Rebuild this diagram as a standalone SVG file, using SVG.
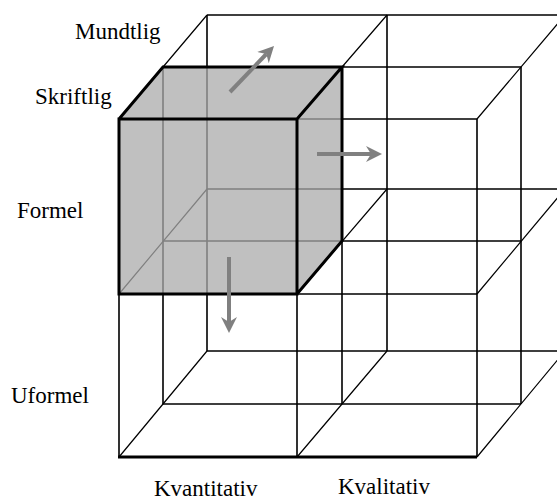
<svg xmlns="http://www.w3.org/2000/svg" width="557" height="501" viewBox="0 0 557 501">
<style>
.thin{stroke:#000;stroke-width:1.6;fill:none}
.diag{stroke:#000;stroke-width:1.2;fill:none}
.thick{stroke:#000;stroke-width:3;fill:none;stroke-linejoin:miter}
.arrow{stroke:#808080;stroke-width:4;fill:none}
.lbl{font-family:"Liberation Serif","Times New Roman",serif;font-size:23px;fill:#000}
</style>
<defs>
<marker id="ah" markerUnits="userSpaceOnUse" viewBox="0 -10 20 20" markerWidth="20" markerHeight="20" refX="5" refY="0" orient="auto">
<polygon points="0,-8 16,0 0,8 5,0" fill="#808080"/>
</marker>
</defs>
<rect width="557" height="501" fill="#fff"/>
<g id="lattice">
<path class="thin" d="M119 119H477M119 294H477M163 67H521M163 241H521M163 404H521M207 15H565M207 189H565M207 351H565"/>
<path class="thin" d="M119 119V457M297 119V457M477 119V457M163 67V404M342 67V404M521 67V404M207 15V351M387 15V351M565 15V351"/>
<path class="diag" d="M119 119L207 15M297 119L387 15M477 119L565 15M119 294L207 189M297 294L387 189M477 294L565 189M119 457L207 351M297 457L387 351M477 457L565 351"/>
<path stroke="#000" stroke-width="2.8" fill="none" d="M118 457H477"/>
</g>
<g id="cube">
<polygon points="119,119 163,67 342,67 342,241 297,294 119,294" fill="rgb(171,171,171)" fill-opacity="0.75"/>
<path class="thick" d="M119 119H297V294H119Z M119 119L163 67H342L297 119 M342 67V241L297 294"/>
</g>
<g id="connectors">
<path class="arrow" d="M230 92L266.4 54" marker-end="url(#ah)"/>
<path class="arrow" d="M317 154H371" marker-end="url(#ah)"/>
<path class="arrow" d="M229 257V322" marker-end="url(#ah)"/>
</g>
<g id="label-mundtlig"><text class="lbl" x="75" y="39">Mundtlig</text></g>
<g id="label-skriftlig"><text class="lbl" x="35" y="104">Skriftlig</text></g>
<g id="label-formel"><text class="lbl" x="17" y="218">Formel</text></g>
<g id="label-uformel"><text class="lbl" x="11" y="403">Uformel</text></g>
<g id="label-kvantitativ"><text class="lbl" x="154" y="496">Kvantitativ</text></g>
<g id="label-kvalitativ"><text class="lbl" x="338" y="494">Kvalitativ</text></g>
</svg>
